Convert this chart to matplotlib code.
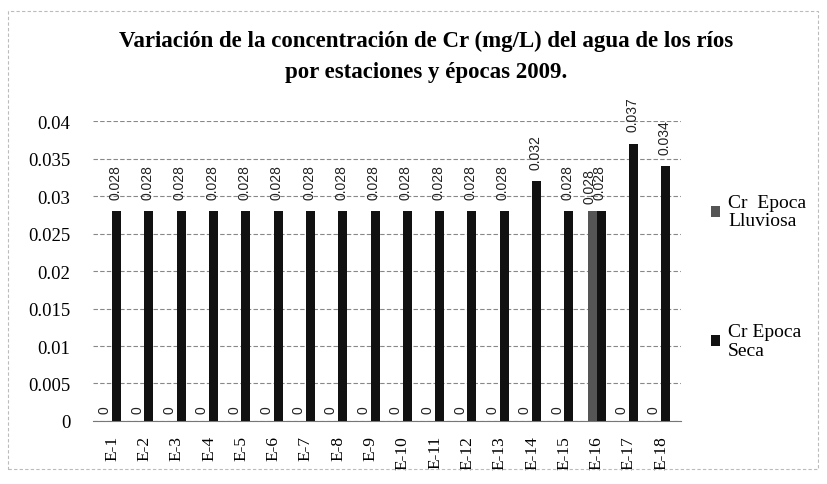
import matplotlib
matplotlib.use("Agg")
import matplotlib.pyplot as plt
import numpy as np
from matplotlib.patches import Rectangle

stations = [f"E-{i}" for i in range(1, 19)]
lluviosa = [0, 0, 0, 0, 0, 0, 0, 0, 0, 0, 0, 0, 0, 0, 0, 0.028, 0, 0]
seca = [0.028, 0.028, 0.028, 0.028, 0.028, 0.028, 0.028, 0.028, 0.028, 0.028,
        0.028, 0.028, 0.028, 0.032, 0.028, 0.028, 0.037, 0.034]
yticks = [0, 0.005, 0.01, 0.015, 0.02, 0.025, 0.03, 0.035, 0.04]
ytick_labels = ["0", "0.005", "0.01", "0.015", "0.02", "0.025", "0.03", "0.035", "0.04"]
title = "Variación de la concentración de Cr (mg/L) del agua de los ríos\npor estaciones y épocas 2009."
series_names = ["Cr  Epoca\nLluviosa", "Cr Epoca\nSeca"]

fig = plt.figure(figsize=(8.28, 4.85), dpi=100)
ax = fig.add_axes([0.112, 0.130, 0.710, 0.618])

x = np.arange(len(stations))
w = 0.28
b1 = ax.bar(x - w / 2, lluviosa, w, color="#555555", label=series_names[0], zorder=3)
b2 = ax.bar(x + w / 2, seca, w, color="#111111", label=series_names[1], zorder=3)

for xi, v in zip(x - w / 2, lluviosa):
    ax.annotate(f"{v:g}", (xi, v), xytext=(-2, 6), textcoords="offset points",
                rotation=90, ha="center", va="bottom", fontsize=10,
                family="Liberation Sans", color="#222222")
for xi, v in zip(x + w / 2, seca):
    ax.annotate(f"{v:g}", (xi, v), xytext=(-1, 9), textcoords="offset points",
                rotation=90, ha="center", va="bottom", fontsize=10,
                family="Liberation Sans", color="#222222")

ax.set_xlim(-0.6, len(stations) - 0.4)
ax.set_ylim(0, 0.04)
ax.set_yticks(yticks)
ax.set_yticklabels(ytick_labels, family="Liberation Serif", fontsize=13.5)
ax.set_xticks(x)
ax.set_xticklabels(stations, rotation=90, family="Liberation Serif", fontsize=12.5)
ax.tick_params(axis="y", length=0, pad=16)
ax.tick_params(axis="x", length=0, pad=10)
ax.yaxis.grid(True, linestyle=(0, (4, 2)), color="#888888", linewidth=0.8, zorder=0)
for s in ["top", "right", "left"]:
    ax.spines[s].set_visible(False)
ax.spines["bottom"].set_color("#777777")

fig.text(0.515, 0.883, title, ha="center", va="center", family="Liberation Serif",
         fontweight="bold", fontsize=16.5, linespacing=1.6)

leg = fig.legend(handles=[b1, b2], labels=series_names, loc="upper left",
                 bbox_to_anchor=(0.837, 0.635), frameon=False,
                 prop={"family": "Liberation Serif", "size": 14},
                 handlelength=0.5, handleheight=0.5, handletextpad=0.4,
                 labelspacing=4.8)
for t in leg.get_texts():
    t.set_linespacing(1.15)

fig.patches.append(Rectangle((0.010, 0.03), 0.978, 0.945, transform=fig.transFigure,
                             fill=False, edgecolor="#bbbbbb", linestyle=(0, (3, 2)),
                             linewidth=0.8))

fig.savefig("out.png", dpi=100)
